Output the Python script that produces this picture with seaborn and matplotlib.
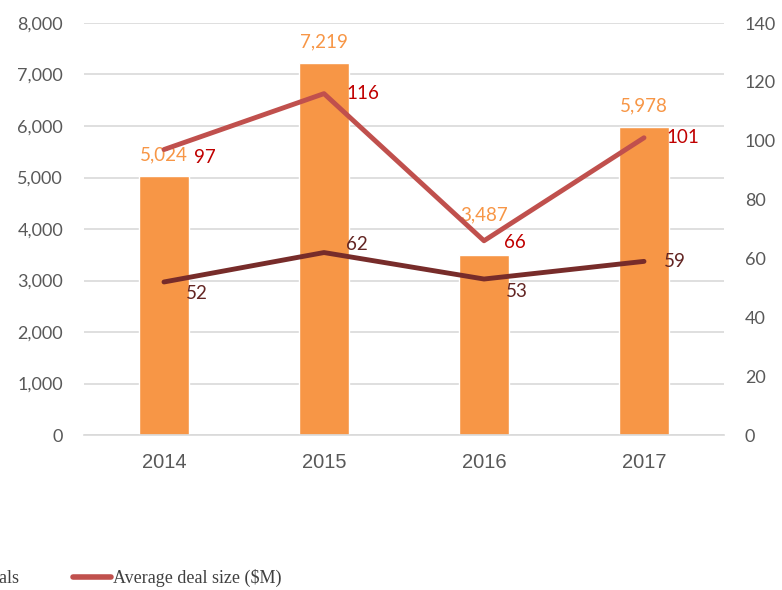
import matplotlib
matplotlib.use("Agg")
import matplotlib.pyplot as plt
from matplotlib.patches import Patch
from matplotlib.lines import Line2D
import seaborn as sns

# chart data
years = ["2014", "2015", "2016", "2017"]
deals = [5024, 7219, 3487, 5978]
avg_size = [97, 116, 66, 101]
median_size = [52, 62, 53, 59]

left_ticks = [0, 1000, 2000, 3000, 4000, 5000, 6000, 7000, 8000]
right_ticks = [0, 20, 40, 60, 80, 100, 120, 140]

# colours
bar_color = "#F79646"
avg_color = "#C0504D"
med_color = "#772C2A"
grid_color = "#D9D9D9"
tick_color = "#595959"

sns.set_theme(style="white")
plt.rcParams["font.family"] = ["Lato", "DejaVu Sans"]

fig = plt.figure(figsize=(7.82, 5.90), dpi=100)
ax = fig.add_axes([84 / 782, 1 - 435 / 590, 640 / 782, 412 / 590])

sns.barplot(x=years, y=deals, color=bar_color, width=0.31, saturation=1, ax=ax)
ax.set_ylim(0, 8000)
ax.set_yticks(left_ticks)
ax.set_yticklabels([f"{t:,}" for t in left_ticks])
ax.yaxis.grid(True, color=grid_color, linewidth=1.2)
ax.set_axisbelow(True)
for s in ["top", "left", "right"]:
    ax.spines[s].set_visible(False)
ax.spines["bottom"].set_color(grid_color)
ax.spines["bottom"].set_linewidth(1.2)
ax.tick_params(axis="y", length=0, pad=15, labelsize=13, labelcolor=tick_color)
ax.tick_params(axis="x", which="major", length=0, pad=13, labelsize=14.5, labelcolor=tick_color)
ax.set_xticks([-0.5, 0.5, 1.5, 2.5, 3.5], minor=True)
ax.tick_params(axis="x", which="minor", length=4, width=1.2, color=grid_color)
for lab in ax.get_xticklabels():
    lab.set_family("Liberation Sans")

bar_texts = ax.bar_label(ax.containers[0], labels=[f"{v:,}" for v in deals],
                         padding=9, color=bar_color, fontsize=13.5)
# the 2016 label sits higher, clear of the line
bar_texts[2].xyann = (0, 23)

ax2 = ax.twinx()
sns.pointplot(x=years, y=avg_size, color=avg_color, markers="", linewidth=3.5, ax=ax2)
sns.pointplot(x=years, y=median_size, color=med_color, markers="", linewidth=3.5, ax=ax2)
ax2.set_ylim(0, 140)
ax2.set_yticks(right_ticks)
ax2.set_xlim(-0.5, 3.5)
ax.set_xlim(-0.5, 3.5)
for s in ax2.spines.values():
    s.set_visible(False)
ax2.tick_params(axis="y", length=0, pad=15, labelsize=13, labelcolor=tick_color)
ax2.grid(False)

# value labels next to line points (offsets in pixels)
avg_off = [(30, -8), (22, 0), (20, -2), (22, 0)]
med_off = [(22, -12), (22, 8), (22, -12), (20, 0)]
for i, v in enumerate(avg_size):
    ax2.annotate(str(v), (i, v), xytext=avg_off[i], textcoords="offset pixels",
                 ha="left", va="center", color="#C00000", fontsize=13.5)
for i, v in enumerate(median_size):
    ax2.annotate(str(v), (i, v), xytext=med_off[i], textcoords="offset pixels",
                 ha="left", va="center", color="#632523", fontsize=13.5)

handles = [Patch(color=bar_color), Line2D([], [], color=avg_color, linewidth=4)]
leg = fig.legend(handles, ["Number of deals", "Average deal size ($M)"], ncol=2,
                 loc="center left", bbox_to_anchor=(0, 12 / 590), frameon=False,
                 prop={"family": "Liberation Serif", "size": 13}, labelcolor="#404040",
                 handlelength=2.1, handletextpad=0.1, columnspacing=3.0)

# slide the legend so that it is cut at the left edge like the original
fig.canvas.draw()
x0 = leg.get_texts()[1].get_window_extent().x0
leg.set_bbox_to_anchor((( 113 - x0) / 782, 12 / 590), transform=fig.transFigure)

fig.savefig("out.png", dpi=100)
